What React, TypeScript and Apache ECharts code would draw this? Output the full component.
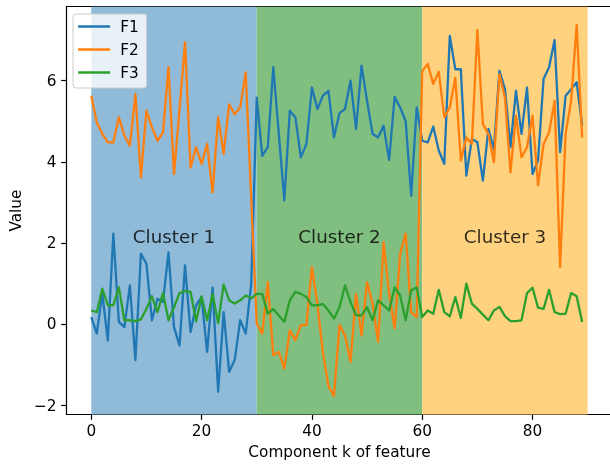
import React, { useEffect, useRef } from "react";
import * as echarts from "echarts";

const F1 = [
  0.18, -0.23, 0.76, -0.4, 2.23, 0.06, -0.07, 0.96, -0.88, 1.74,
  1.49, 0.1, 0.63, 0.55, 1.77, -0.07, -0.52, 1.45, -0.19, 0.47,
  0.67, -0.68, 0.91, -1.66, 0.3, -1.17, -0.88, 0.1, -0.23, 1.0,
  5.58, 4.15, 4.36, 6.33, 4.69, 3.05, 5.26, 5.1, 4.11, 4.44,
  5.83, 5.3, 5.63, 5.75, 4.6, 5.2, 5.3, 6.0, 4.81, 6.37,
  5.5, 4.69, 4.6, 4.89, 4.05, 5.6, 5.34, 5.0, 3.17, 5.34,
  4.52, 4.48, 4.87, 4.28, 3.95, 7.1, 6.28, 6.28, 3.66, 4.56,
  4.48, 3.54, 4.81, 4.31, 6.24, 5.79, 4.36, 5.75, 4.69, 5.83,
  3.7, 4.03, 6.04, 6.33, 7.0, 4.24, 5.63, 5.79, 5.96, 4.89,
];

const F2 = [
  5.63, 4.97, 4.69, 4.48, 4.48, 5.1, 4.65, 4.4, 5.67, 3.62,
  5.26, 4.85, 4.52, 4.72, 6.33, 3.7, 5.3, 6.94, 3.86, 4.36,
  3.95, 4.44, 3.25, 5.1, 4.2, 5.42, 5.17, 5.34, 6.2, 3.1,
  0.02, -0.23, 1.04, -0.76, -0.68, -1.09, -0.15, -0.39, -0.02, -0.02,
  1.41, 0.5, -0.7, -1.52, -1.76, -0.02, -0.27, -0.93, 0.75, -0.27,
  1.04, 0.51, -0.43, 2.02, 0.75, -0.1, 1.74, 2.23, 0.3, 0.18,
  6.24, 6.41, 5.92, 6.22, 5.1, 5.34, 6.07, 4.03, 4.6, 4.44,
  7.25, 4.93, 4.69, 3.99, 6.16, 5.58, 3.74, 5.14, 4.11, 4.36,
  5.14, 3.42, 4.44, 4.72, 5.5, 1.41, 4.69, 5.5, 7.37, 4.6,
];

const F3 = [
  0.34, 0.3, 0.88, 0.47, 0.47, 0.91, 0.1, 0.1, 0.08, 0.12,
  0.38, 0.69, 0.3, 0.77, 0.1, 0.42, 0.77, 0.82, 0.8, 0.07,
  0.69, 0.1, 0.75, 0.03, 0.98, 0.59, 0.51, 0.59, 0.71, 0.64,
  0.75, 0.75, 0.26, 0.38, 0.22, 0.06, 0.59, 0.8, 0.75, 0.67,
  0.47, 0.47, 0.5, 0.34, 0.14, 0.42, 0.96, 0.55, 0.22, 0.22,
  0.42, 0.1, 0.59, 0.47, 0.34, 0.91, 0.71, 0.1, 0.84, 0.91,
  0.18, 0.34, 0.26, 0.85, 0.3, 0.2, 0.67, 0.16, 1.0, 0.51,
  0.38, 0.24, 0.1, 0.34, 0.43, 0.2, 0.08, 0.08, 0.1, 0.77,
  0.9, 0.41, 0.38, 0.85, 0.3, 0.25, 0.26, 0.77, 0.69, 0.06,
];

const SERIES_NAMES = ["F1", "F2", "F3"];
const CLUSTER_NAMES = ["Cluster 1", "Cluster 2", "Cluster 3"];
const CLUSTER_STARTS = [0, 30, 60];
const CLUSTER_ENDS = [30, 60, 90];
const CLUSTER_LABEL_X = [15, 45, 75];
const CLUSTER_LABEL_Y = 2.17;
const X_TICKS = [0, 20, 40, 60, 80];
const Y_TICKS = [-2, 0, 2, 4, 6];

const LINE_COLORS = ["#1f77b4", "#ff7f0e", "#2ca02c"];
const SPAN_COLORS = ["#8fbbd9", "#80bf80", "#ffd280"];

const FONT = "DejaVu Sans";

export default function App() {
  const ref = useRef<HTMLDivElement>(null);

  useEffect(() => {
    document.body.style.overflow = "hidden";
    const chart = echarts.init(ref.current!, null, { renderer: "svg" });
    const seriesData = [F1, F2, F3];
    const fmt = (v: number) => (v < 0 ? "\u2212" + Math.abs(v) : String(v));

    const lineSeries = SERIES_NAMES.map((name, k) => ({
      name,
      type: "line",
      data: seriesData[k].map((v, i) => [i, v]),
      showSymbol: false,
      symbol: "none",
      z: 3,
      lineStyle: { color: LINE_COLORS[k], width: 2.3, join: "round" },
      itemStyle: { color: LINE_COLORS[k] },
      emphasis: { disabled: true },
      ...(k === 0
        ? {
            markArea: {
              silent: true,
              z: 1,
              data: CLUSTER_STARTS.map((s, j) => [
                { xAxis: s, itemStyle: { color: SPAN_COLORS[j], opacity: 1 } },
                { xAxis: CLUSTER_ENDS[j] },
              ]),
            },
          }
        : {}),
    }));

    const option = {
      animation: false,
      grid: { left: 64, right: 1.5, top: 6.7, bottom: 51.5, containLabel: false },
      legend: {
        data: SERIES_NAMES,
        orient: "vertical",
        left: 73,
        top: 14,
        itemWidth: 32,
        itemHeight: 15,
        itemGap: 8,
        padding: [5, 8, 8, 4],
        backgroundColor: "rgba(255,255,255,0.8)",
        borderColor: "#cccccc",
        borderWidth: 1,
        borderRadius: 3,
        itemStyle: { opacity: 0 },
        lineStyle: { width: 2.3 },
        textStyle: { fontFamily: FONT, fontSize: 15.3, color: "#000", padding: [0, 0, 0, 5] },
        selectedMode: false,
      },
      xAxis: [
        {
          type: "value",
          min: -4.5,
          max: 94.5,
          name: "Component k of feature",
          nameLocation: "middle",
          nameGap: 30,
          nameTextStyle: { fontFamily: FONT, fontSize: 15.3, color: "#000" },
          axisLine: { show: true, onZero: false, lineStyle: { color: "#000", width: 1.2 } },
          axisTick: { show: true, customValues: X_TICKS, length: 5.3, lineStyle: { color: "#000", width: 1.2 } },
          axisLabel: { customValues: X_TICKS, margin: 9, fontFamily: FONT, fontSize: 15.3, color: "#000" },
          splitLine: { show: false },
        },
        {
          type: "value",
          position: "top",
          min: -4.5,
          max: 94.5,
          axisLine: { show: true, onZero: false, lineStyle: { color: "#000", width: 1.2 } },
          axisTick: { show: false },
          axisLabel: { show: false },
          splitLine: { show: false },
        },
      ],
      yAxis: {
        type: "value",
        min: -2.22,
        max: 7.82,
        name: "Value",
        nameLocation: "middle",
        nameGap: 41,
        nameRotate: 90,
        nameTextStyle: { fontFamily: FONT, fontSize: 15.3, color: "#000" },
        axisLine: { show: true, onZero: false, lineStyle: { color: "#000", width: 1.2 } },
        axisTick: { show: true, customValues: Y_TICKS, length: 5.3, lineStyle: { color: "#000", width: 1.2 } },
        axisLabel: { customValues: Y_TICKS, margin: 10, fontFamily: FONT, fontSize: 15.3, color: "#000", formatter: fmt },
        splitLine: { show: false },
      },
      series: [
        ...lineSeries,
        {
          name: "clusters",
          type: "scatter",
          symbolSize: 1,
          z: 4,
          silent: true,
          itemStyle: { color: "rgba(0,0,0,0)" },
          data: CLUSTER_NAMES.map((n, j) => ({ name: n, value: [CLUSTER_LABEL_X[j], CLUSTER_LABEL_Y] })),
          label: {
            show: true,
            position: "inside",
            formatter: "{b}",
            fontFamily: FONT,
            fontSize: 18.3,
            color: "#000",
          },
        },
      ],
    };

    chart.setOption(option as any);
    return () => chart.dispose();
  }, []);

  return (
    <div
      ref={ref}
      style={{ position: "fixed", left: 0, top: 0, width: 614, height: 466 }}
    />
  );
}
